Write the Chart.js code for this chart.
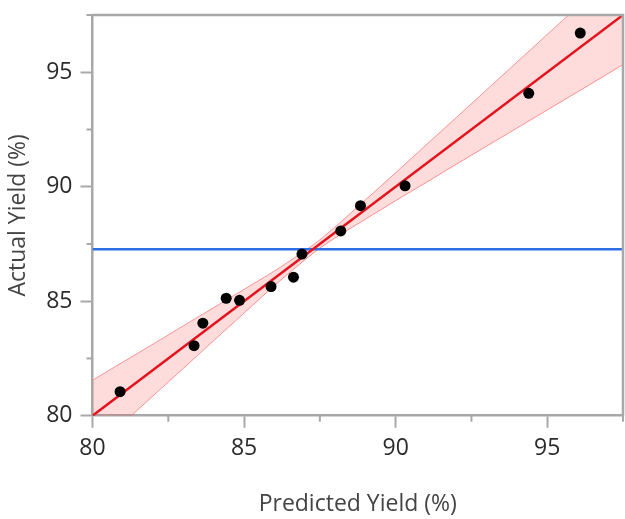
<!DOCTYPE html>
<html>
<head>
<meta charset="utf-8">
<script src="https://cdn.jsdelivr.net/npm/chart.js@4.4.1/dist/chart.umd.min.js"></script>
<style>
  html, body { margin: 0; padding: 0; background: #fff; }
  canvas { display: block; }
</style>
</head>
<body>
<canvas id="fitChart" width="625" height="519"></canvas>
<script>
// Predicted vs actual yield
const predicted = [80.91, 83.35, 83.64, 84.41, 84.85, 85.89, 86.63, 86.91, 88.19, 88.84, 90.31, 94.39, 96.09];
const actual = [81.05, 83.06, 84.04, 85.13, 85.04, 85.64, 86.05, 87.06, 88.07, 89.17, 90.04, 94.08, 96.71];

// fit line and mean line
const fitX = [80, 97.5];
const fitY = [80, 97.5];
const meanY = 87.27;

// confidence band edges (estimated)
const bandX = [80, 81, 82, 83, 84, 85, 86, 87.3, 88, 89, 90, 91, 92, 93, 94, 95, 96, 97.5];
const bandUpper = [81.55, 82.34, 83.13, 83.93, 84.72, 85.52, 86.32, 87.48, 88.24, 89.42, 90.61, 91.82, 93.02, 94.23, 95.44, 96.65, 97.86, 99.67];
const bandLower = [78.45, 79.66, 80.87, 82.07, 83.28, 84.48, 85.68, 87.12, 87.76, 88.58, 89.39, 90.18, 90.98, 91.77, 92.56, 93.35, 94.14, 95.33];

// ticks
const majorTicks = [80, 85, 90, 95];
const minorTicks = [82.5, 87.5, 92.5, 97.5];
const axisMin = 80;
const axisMax = 97.5;

const axisColor = "#a8a8a8";
const textColor = "#2b2b2b";

const toPoints = (xs, ys) => xs.map((x, i) => ({ x: x, y: ys[i] }));

// no extra room for end labels, layout padding handles it
const noEdgePadding = (scale) => {
  scale.paddingTop = 0;
  scale.paddingBottom = 0;
  scale.paddingLeft = 0;
  scale.paddingRight = 0;
};

// frame on top/right and the short minor ticks
const framePlugin = {
  id: "frame",
  afterDraw(chart) {
    const { ctx, chartArea, scales } = chart;
    ctx.save();
    ctx.strokeStyle = axisColor;
    ctx.lineWidth = 2.5;
    ctx.beginPath();
    ctx.moveTo(chartArea.left, chartArea.top);
    ctx.lineTo(chartArea.right, chartArea.top);
    ctx.lineTo(chartArea.right, chartArea.bottom);
    ctx.stroke();
    ctx.lineWidth = 2;
    minorTicks.forEach((v) => {
      const px = scales.x.getPixelForValue(v);
      ctx.beginPath();
      ctx.moveTo(px, chartArea.bottom);
      ctx.lineTo(px, chartArea.bottom + 6);
      ctx.stroke();
      const py = scales.y.getPixelForValue(v);
      ctx.beginPath();
      ctx.moveTo(chartArea.left, py);
      ctx.lineTo(chartArea.left - 6, py);
      ctx.stroke();
    });
    ctx.restore();
  },
};

const ctx = document.getElementById("fitChart").getContext("2d");
new Chart(ctx, {
  type: "scatter",
  data: {
    datasets: [
      {
        label: "Observed",
        data: toPoints(predicted, actual),
        backgroundColor: "#000",
        borderWidth: 0,
        pointRadius: 5.5,
      },
      {
        label: "Fit",
        type: "line",
        data: toPoints(fitX, fitY),
        borderColor: "#e3141e",
        borderWidth: 2.5,
        pointRadius: 0,
      },
      {
        label: "Mean",
        type: "line",
        data: toPoints(fitX, [meanY, meanY]),
        borderColor: "#2f6fe4",
        borderWidth: 2.5,
        pointRadius: 0,
      },
      {
        label: "Upper",
        type: "line",
        data: toPoints(bandX, bandUpper),
        borderColor: "rgba(250, 110, 110, 0.7)",
        borderWidth: 1,
        backgroundColor: "rgba(255, 40, 40, 0.16)",
        fill: "+1",
        pointRadius: 0,
        tension: 0.3,
      },
      {
        label: "Lower",
        type: "line",
        data: toPoints(bandX, bandLower),
        borderColor: "rgba(250, 110, 110, 0.7)",
        borderWidth: 1,
        pointRadius: 0,
        tension: 0.3,
      },
    ],
  },
  options: {
    responsive: false,
    animation: false,
    layout: { autoPadding: false, padding: { top: 15, right: 2, left: 0, bottom: 0 } },
    plugins: {
      legend: { display: false },
      tooltip: { enabled: false },
    },
    scales: {
      x: {
        type: "linear",
        min: axisMin,
        max: axisMax,
        afterBuildTicks: (scale) => {
          scale.ticks = majorTicks.map((v) => ({ value: v }));
        },
        afterFit: (scale) => {
          scale.height = 103.3;
          noEdgePadding(scale);
        },
        grid: {
          drawOnChartArea: false,
          tickLength: 12,
          tickWidth: 2,
          tickColor: axisColor,
        },
        border: { color: axisColor, width: 2.5 },
        ticks: {
          padding: 6.5,
          color: textColor,
          font: { family: "Open Sans", size: 23 },
          maxRotation: 0,
        },
        title: {
          display: true,
          text: "Predicted Yield (%)",
          color: "#444",
          font: { family: "Open Sans", size: 23 },
          padding: { top: 0, bottom: 1 },
        },
      },
      y: {
        type: "linear",
        min: axisMin,
        max: axisMax,
        afterBuildTicks: (scale) => {
          scale.ticks = majorTicks.map((v) => ({ value: v }));
        },
        afterFit: (scale) => {
          scale.width = 92.5;
          noEdgePadding(scale);
        },
        grid: {
          drawOnChartArea: false,
          tickLength: 12,
          tickWidth: 2,
          tickColor: axisColor,
        },
        border: { color: axisColor, width: 2.5 },
        ticks: {
          padding: 8,
          color: textColor,
          font: { family: "Open Sans", size: 23 },
        },
        title: {
          display: true,
          text: "Actual Yield (%)",
          color: "#444",
          font: { family: "Open Sans", size: 23 },
          padding: { top: 5, bottom: 0 },
        },
      },
    },
  },
  plugins: [framePlugin],
});
</script>
</body>
</html>
